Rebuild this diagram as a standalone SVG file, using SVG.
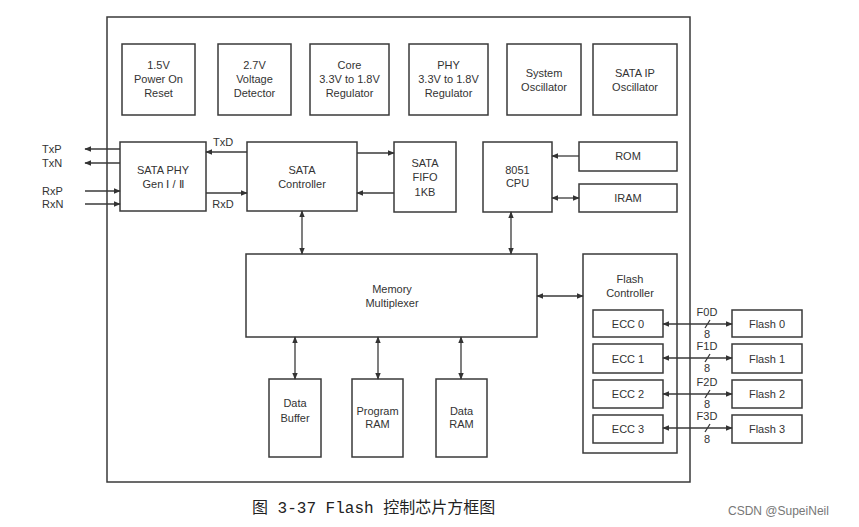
<svg xmlns="http://www.w3.org/2000/svg" width="859" height="527" viewBox="0 0 859 527">
<style>
.box{fill:none;stroke:#3a3a3a;stroke-width:1.5}
.t{font-family:"Liberation Sans",Arial,sans-serif;font-size:11px;fill:#333;text-anchor:middle}
.l{font-family:"Liberation Sans",Arial,sans-serif;font-size:11px;fill:#333}
.c{fill:none;stroke:#3a3a3a;stroke-width:1.3}
</style>
<defs>
<marker id="ah" viewBox="0 0 10 10" refX="9" refY="5" markerWidth="7" markerHeight="7" markerUnits="userSpaceOnUse" orient="auto-start-reverse">
<path d="M0,1 L10,5 L0,9 Z" fill="#333"/>
</marker>
</defs>
<rect width="859" height="527" fill="#fff"/>
<g id="chip"><rect class="box" x="107" y="17" width="583" height="465"/></g>

<g id="n-por"><rect class="box" x="122" y="44" width="73" height="71"/>
<text class="t" x="158.5" y="69">1.5V</text><text class="t" x="158.5" y="83">Power On</text><text class="t" x="158.5" y="97">Reset</text></g>
<g id="n-vdet"><rect class="box" x="218" y="44" width="73" height="71"/>
<text class="t" x="254.5" y="69">2.7V</text><text class="t" x="254.5" y="83">Voltage</text><text class="t" x="254.5" y="97">Detector</text></g>
<g id="n-corereg"><rect class="box" x="310" y="44" width="79" height="71"/>
<text class="t" x="349.5" y="69">Core</text><text class="t" x="349.5" y="83">3.3V to 1.8V</text><text class="t" x="349.5" y="97">Regulator</text></g>
<g id="n-phyreg"><rect class="box" x="409" y="44" width="79" height="71"/>
<text class="t" x="448.5" y="69">PHY</text><text class="t" x="448.5" y="83">3.3V to 1.8V</text><text class="t" x="448.5" y="97">Regulator</text></g>
<g id="n-sysosc"><rect class="box" x="507" y="44" width="74" height="71"/>
<text class="t" x="544" y="77">System</text><text class="t" x="544" y="91">Oscillator</text></g>
<g id="n-ipos"><rect class="box" x="593" y="44" width="84" height="71"/>
<text class="t" x="635" y="77">SATA IP</text><text class="t" x="635" y="91">Oscillator</text></g>

<g id="n-phy"><rect class="box" x="120" y="142" width="86" height="69"/>
<text class="t" x="163" y="174">SATA PHY</text><text class="t" x="163" y="188">Gen Ⅰ / Ⅱ</text></g>
<g id="n-satactl"><rect class="box" x="247" y="142" width="110" height="69"/>
<text class="t" x="302" y="174">SATA</text><text class="t" x="302" y="188">Controller</text></g>
<g id="n-fifo"><rect class="box" x="394" y="142" width="62" height="70"/>
<text class="t" x="425" y="167">SATA</text><text class="t" x="425" y="181">FIFO</text><text class="t" x="425" y="196">1KB</text></g>
<g id="n-cpu"><rect class="box" x="483" y="142" width="69" height="70"/>
<text class="t" x="517.5" y="174">8051</text><text class="t" x="517.5" y="187">CPU</text></g>
<g id="n-rom"><rect class="box" x="579" y="142" width="98" height="29"/>
<text class="t" x="628" y="160">ROM</text></g>
<g id="n-iram"><rect class="box" x="579" y="184" width="98" height="28"/>
<text class="t" x="628" y="202">IRAM</text></g>

<g id="n-mux"><rect class="box" x="246" y="254" width="291" height="83"/>
<text class="t" x="392" y="293">Memory</text><text class="t" x="392" y="307">Multiplexer</text></g>

<g id="n-fc"><rect class="box" x="583" y="254" width="94" height="199"/>
<text class="t" x="630" y="283">Flash</text><text class="t" x="630" y="297">Controller</text></g>
<g id="n-ecc0"><rect class="box" x="593" y="310" width="70" height="27"/><text class="t" x="628" y="327.5">ECC 0</text></g>
<g id="n-ecc1"><rect class="box" x="593" y="344" width="70" height="29"/><text class="t" x="628" y="362.5">ECC 1</text></g>
<g id="n-ecc2"><rect class="box" x="593" y="380" width="70" height="28"/><text class="t" x="628" y="398">ECC 2</text></g>
<g id="n-ecc3"><rect class="box" x="593" y="415" width="70" height="28"/><text class="t" x="628" y="433">ECC 3</text></g>

<g id="n-flash0"><rect class="box" x="732" y="310" width="70" height="27"/><text class="t" x="767" y="327.5">Flash 0</text></g>
<g id="n-flash1"><rect class="box" x="732" y="344" width="70" height="29"/><text class="t" x="767" y="362.5">Flash 1</text></g>
<g id="n-flash2"><rect class="box" x="732" y="380" width="70" height="28"/><text class="t" x="767" y="398">Flash 2</text></g>
<g id="n-flash3"><rect class="box" x="732" y="415" width="70" height="28"/><text class="t" x="767" y="433">Flash 3</text></g>

<g id="n-dbuf"><rect class="box" x="269" y="379" width="52" height="78"/>
<text class="t" x="295" y="407">Data</text><text class="t" x="295" y="422">Buffer</text></g>
<g id="n-pram"><rect class="box" x="352" y="379" width="51" height="78"/>
<text class="t" x="377.5" y="415">Program</text><text class="t" x="377.5" y="428">RAM</text></g>
<g id="n-dram"><rect class="box" x="436" y="379" width="51" height="78"/>
<text class="t" x="461.5" y="415">Data</text><text class="t" x="461.5" y="428">RAM</text></g>

<g id="connectors">
<path class="c" d="M120 149 H85" marker-end="url(#ah)"/>
<path class="c" d="M120 163 H85" marker-end="url(#ah)"/>
<path class="c" d="M85 191 H120" marker-end="url(#ah)"/>
<path class="c" d="M85 204 H120" marker-end="url(#ah)"/>
<path class="c" d="M247 152 H206" marker-end="url(#ah)"/>
<path class="c" d="M206 193 H247" marker-end="url(#ah)"/>
<path class="c" d="M357 153 H394" marker-end="url(#ah)"/>
<path class="c" d="M394 193 H357" marker-end="url(#ah)"/>
<path class="c" d="M579 156 H552" marker-end="url(#ah)"/>
<path class="c" d="M552 198 H579" marker-start="url(#ah)" marker-end="url(#ah)"/>
<path class="c" d="M302 211 V254" marker-start="url(#ah)" marker-end="url(#ah)"/>
<path class="c" d="M511 212 V254" marker-start="url(#ah)" marker-end="url(#ah)"/>
<path class="c" d="M537 296 H583" marker-start="url(#ah)" marker-end="url(#ah)"/>
<path class="c" d="M295 337 V379" marker-start="url(#ah)" marker-end="url(#ah)"/>
<path class="c" d="M378 337 V379" marker-start="url(#ah)" marker-end="url(#ah)"/>
<path class="c" d="M461 337 V379" marker-start="url(#ah)" marker-end="url(#ah)"/>
<path class="c" d="M663 324 H732" marker-start="url(#ah)" marker-end="url(#ah)"/>
<path class="c" d="M663 358 H732" marker-start="url(#ah)" marker-end="url(#ah)"/>
<path class="c" d="M663 394 H732" marker-start="url(#ah)" marker-end="url(#ah)"/>
<path class="c" d="M663 428 H732" marker-start="url(#ah)" marker-end="url(#ah)"/>
<path class="c" d="M705 328 L710 320 M705 362 L710 354 M705 398 L710 390 M705 432 L710 424"/>
</g>

<g id="labels">
<text class="l" x="42" y="153">TxP</text>
<text class="l" x="42" y="167">TxN</text>
<text class="l" x="42" y="195">RxP</text>
<text class="l" x="42" y="208">RxN</text>
<text class="t" x="223" y="146">TxD</text>
<text class="t" x="223" y="208">RxD</text>
<text class="t" x="707" y="316">F0D</text><text class="t" x="707" y="338">8</text>
<text class="t" x="707" y="350">F1D</text><text class="t" x="707" y="372">8</text>
<text class="t" x="707" y="386">F2D</text><text class="t" x="707" y="408">8</text>
<text class="t" x="707" y="420">F3D</text><text class="t" x="707" y="443">8</text>
</g>

<text x="252" y="513" font-family="'Liberation Mono','Noto Sans CJK SC',monospace" font-size="16" fill="#222">图 3-37  Flash 控制芯片方框图</text>
<text x="728" y="515" font-family="'Liberation Sans',Arial,sans-serif" font-size="12" fill="#777">CSDN @SupeiNeil</text>
</svg>
